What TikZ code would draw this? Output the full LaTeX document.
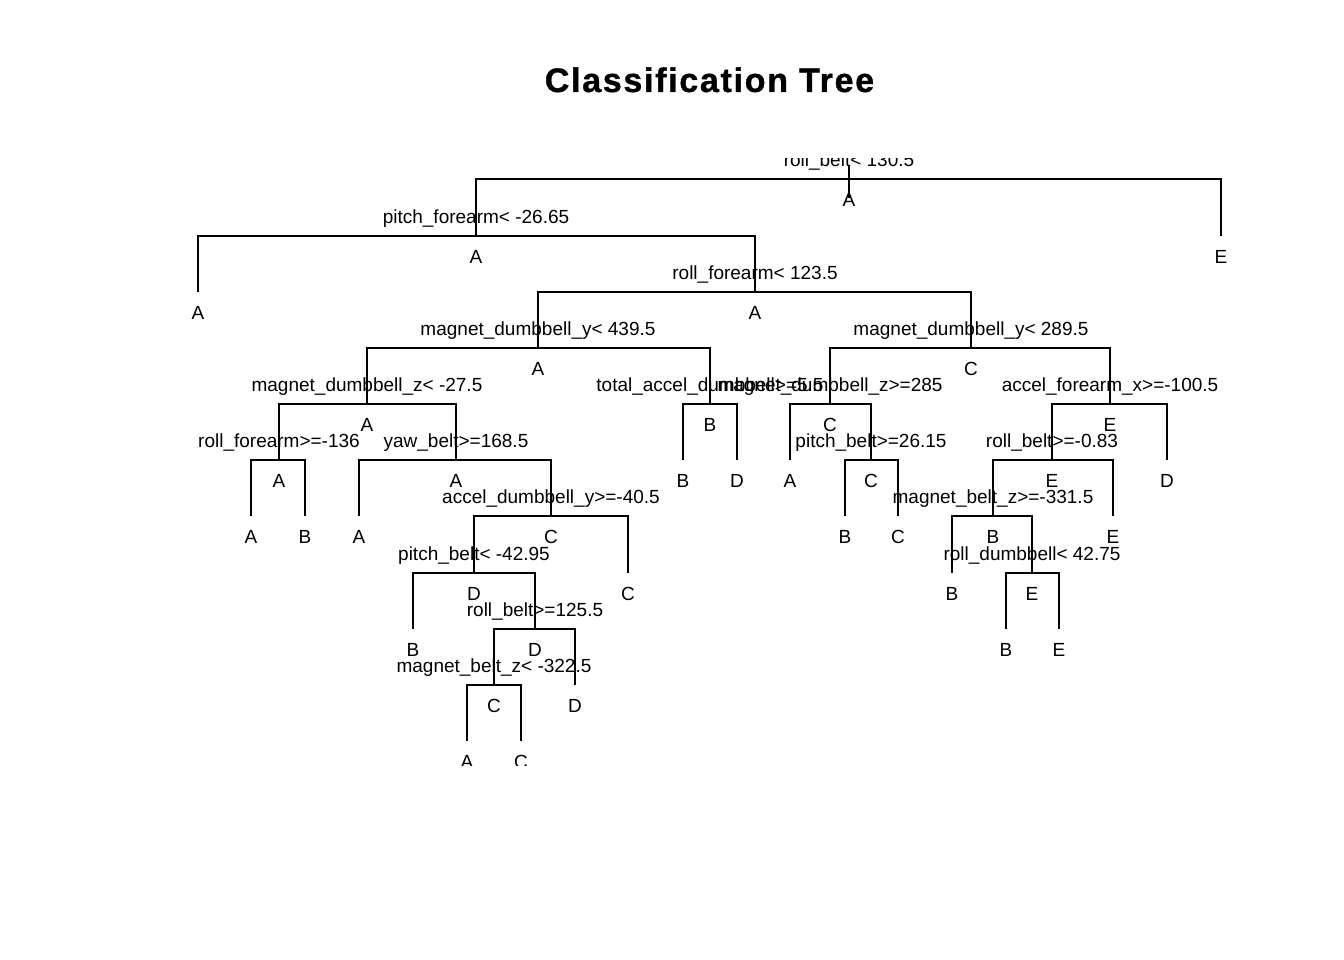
\documentclass[tikz,border=0pt]{standalone}
\usepackage{fontspec}
\setmainfont{Liberation Sans}
\newfontfamily\titlefont{Liberation Sans Bold}[LetterSpace=5,FakeBold=1]
\newcommand\tnode[5]{%
  \coordinate (#1) at (#2,#3);
  \node[splitlbl] (#1s) at (#1) {#4};
  \node[classlbl] (#1c) at (#1) {#5};}
\newcommand\tleaf[4]{%
  \coordinate (#1) at (#2,#3);
  \node[classlbl] (#1c) at (#1) {#4};}
\begin{document}
\begin{tikzpicture}[x=1pt,y=-1pt,
  edge/.style={line width=2pt},
  lbl/.style={anchor=base,inner sep=0pt,font=\fontsize{19}{19}\selectfont},
  splitlbl/.style={lbl,yshift=12.5pt},
  classlbl/.style={lbl,yshift=-27.5pt}]
\useasboundingbox (0,0) rectangle (1344,960);
\node[anchor=base,inner sep=0pt,font=\titlefont\fontsize{34}{34}\selectfont] (title) at (709.5,92) {Classification Tree};
\begin{scope}
\clip (0,159) rectangle (1344,765);
% internal nodes and leaves
\tnode{n1}{849}{179}{roll\_belt< 130.5}{A}
\tnode{n2}{476}{236}{pitch\_forearm< -26.65}{A}
\tleaf{n3}{1221}{236}{E}
\tleaf{n4}{198}{292}{A}
\tnode{n5}{755}{292}{roll\_forearm< 123.5}{A}
\tnode{n10}{538}{348}{magnet\_dumbbell\_y< 439.5}{A}
\tnode{n11}{971}{348}{magnet\_dumbbell\_y< 289.5}{C}
\tnode{n20}{367}{404}{magnet\_dumbbell\_z< -27.5}{A}
\tnode{n21}{710}{404}{total\_accel\_dumbbell>=5.5}{B}
\tnode{n22}{830}{404}{magnet\_dumbbell\_z>=285}{C}
\tnode{n23}{1110}{404}{accel\_forearm\_x>=-100.5}{E}
\tnode{n40}{279}{460}{roll\_forearm>=-136}{A}
\tnode{n41}{456}{460}{yaw\_belt>=168.5}{A}
\tleaf{n42}{683}{460}{B}
\tleaf{n43}{737}{460}{D}
\tleaf{n44}{790}{460}{A}
\tnode{n45}{871}{460}{pitch\_belt>=26.15}{C}
\tnode{n46}{1052}{460}{roll\_belt>=-0.83}{E}
\tleaf{n47}{1167}{460}{D}
\tleaf{n80}{251}{516}{A}
\tleaf{n81}{305}{516}{B}
\tleaf{n82}{359}{516}{A}
\tnode{n83}{551}{516}{accel\_dumbbell\_y>=-40.5}{C}
\tleaf{n90}{845}{516}{B}
\tleaf{n91}{898}{516}{C}
\tnode{n92}{993}{516}{magnet\_belt\_z>=-331.5}{B}
\tleaf{n93}{1113}{516}{E}
\tnode{n166}{474}{573}{pitch\_belt< -42.95}{D}
\tleaf{n167}{628}{573}{C}
\tleaf{n184}{952}{573}{B}
\tnode{n185}{1032}{573}{roll\_dumbbell< 42.75}{E}
\tleaf{n332}{413}{629}{B}
\tnode{n333}{535}{629}{roll\_belt>=125.5}{D}
\tleaf{n370}{1006}{629}{B}
\tleaf{n371}{1059}{629}{E}
\tnode{n666}{494}{685}{magnet\_belt\_z< -322.5}{C}
\tleaf{n667}{575}{685}{D}
\tleaf{n1332}{467}{741}{A}
\tleaf{n1333}{521}{741}{C}
% root stem
\coordinate (rt) at (849,165);
\coordinate (rb) at (849,198);
\draw[edge] (rt) -- (rb);
% connectors
\foreach \p/\c in {n1/n2,n1/n3,n2/n4,n2/n5,n5/n10,n5/n11,
  n10/n20,n10/n21,n11/n22,n11/n23,
  n20/n40,n20/n41,n21/n42,n21/n43,n22/n44,n22/n45,n23/n46,n23/n47,
  n40/n80,n40/n81,n41/n82,n41/n83,n45/n90,n45/n91,n46/n92,n46/n93,
  n83/n166,n83/n167,n92/n184,n92/n185,
  n166/n332,n166/n333,n185/n370,n185/n371,
  n333/n666,n333/n667,n666/n1332,n666/n1333}
  \draw[edge] (\p) -| (\c);
\end{scope}
\end{tikzpicture}
\end{document}
